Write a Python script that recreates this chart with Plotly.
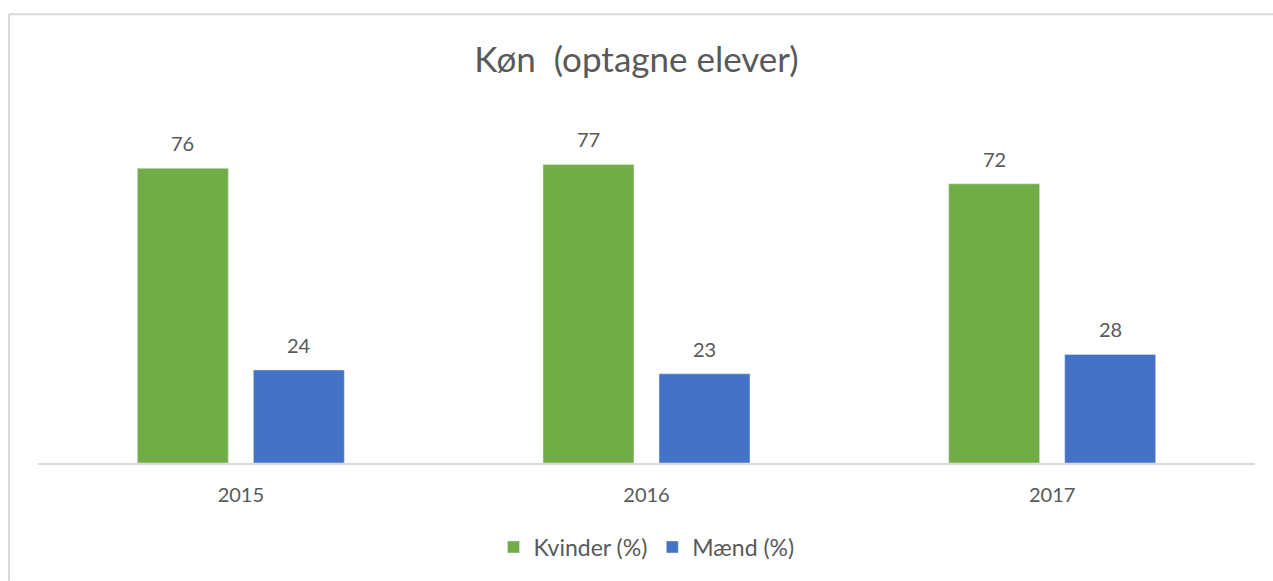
import plotly.graph_objects as go

years = ["2015", "2016", "2017"]
kvinder = [76, 77, 72]
maend = [24, 23, 28]
series_names = ["Kvinder (%)", "Mænd (%)"]
title_text = "Køn\u00a0\u00a0(optagne elever)"

GREEN = "#70ad47"
BLUE = "#4472c4"
TEXT = "#595959"
FONT = "Lato"

W, H = 1273, 581
ML, MR, MT, MB = 38, 18, 114, 114
PW = W - ML - MR
PH = H - MT - MB

fig = go.Figure()
fig.add_trace(go.Bar(x=years, y=kvinder, name=series_names[0], marker_color=GREEN,
                     hoverinfo="skip"))
fig.add_trace(go.Bar(x=years, y=maend, name=series_names[1], marker_color=BLUE,
                     hoverinfo="skip"))

annotations = []
for vals, shift in ((kvinder, -58), (maend, 58)):
    for i, v in enumerate(vals):
        annotations.append(dict(x=i, y=v, text=str(v), showarrow=False, xref="x", yref="y",
                                xshift=shift, yshift=25, yanchor="middle",
                                font=dict(family=FONT, size=20, color=TEXT)))

# chart area border (top and left)
bx0 = (9 - ML) / PW
bx1 = (W + 5 - ML) / PW
by_top = (H - MB - 13) / PH
by_bot = (H - MB - (H + 5)) / PH
shapes = [
    dict(type="line", xref="paper", yref="paper", x0=bx0, x1=bx0, y0=by_bot, y1=by_top,
         line=dict(color="#d9d9d9", width=2)),
    dict(type="line", xref="paper", yref="paper", x0=bx0, x1=bx1, y0=by_top, y1=by_top,
         line=dict(color="#d9d9d9", width=2)),
]

fig.update_layout(
    width=W, height=H,
    margin=dict(l=ML, r=MR, t=MT, b=MB),
    paper_bgcolor="white", plot_bgcolor="white",
    barmode="group", bargap=0.428, bargroupgap=0.216,
    title=dict(text=title_text, x=0.5, xanchor="center", y=1 - 60 / H, yanchor="middle",
               font=dict(family=FONT, size=35, color=TEXT)),
    xaxis=dict(type="category", range=[-0.5, len(years) - 0.5], showline=True,
               linecolor="#d9d9d9", linewidth=1.5,
               showgrid=False, ticks="", ticklabelstandoff=13,
               tickfont=dict(family=FONT, size=20, color=TEXT)),
    yaxis=dict(range=[0, 90], visible=False, showgrid=False),
    legend=dict(orientation="h", x=0.5, xanchor="center", y=(H - MB - 552) / PH,
                yanchor="middle", font=dict(family=FONT, size=23, color=TEXT),
                itemwidth=30, traceorder="normal"),
    annotations=annotations,
    shapes=shapes,
    showlegend=True,
)

fig.write_html("out.html", config={"displayModeBar": False},
               post_script="document.body.style.margin='0px';")
